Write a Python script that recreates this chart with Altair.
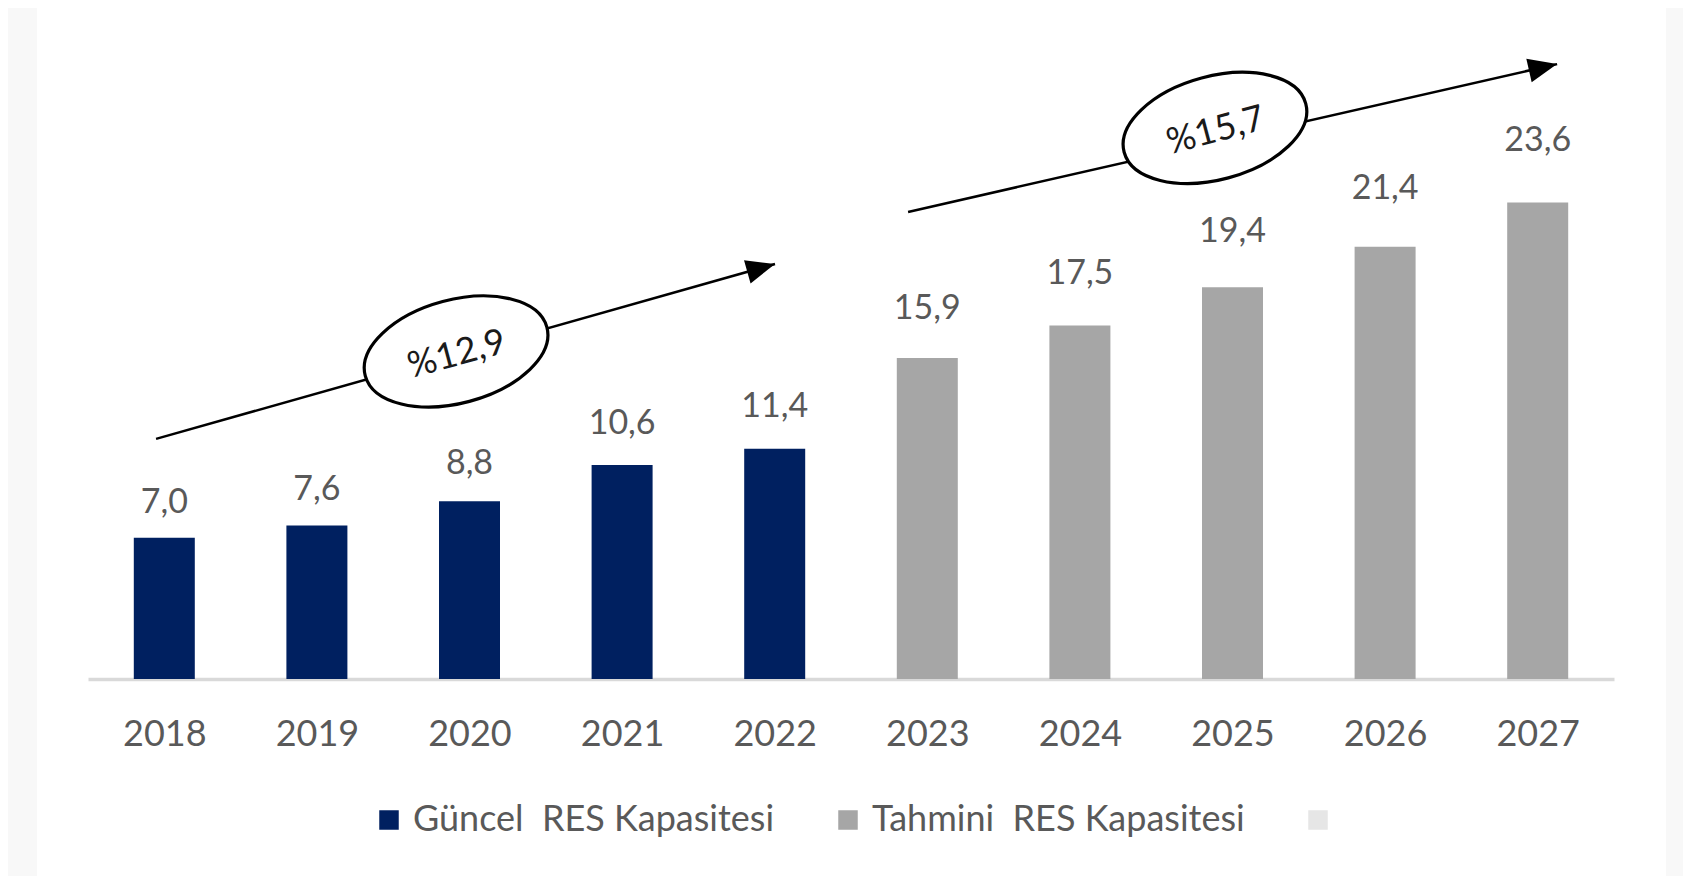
import altair as alt
import pandas as pd

# ---- data ----
years = ["2018", "2019", "2020", "2021", "2022", "2023", "2024", "2025", "2026", "2027"]
values = [7.0, 7.6, 8.8, 10.6, 11.4, 15.9, 17.5, 19.4, 21.4, 23.6]
series_names = ["Güncel\u00a0\u00a0RES Kapasitesi", "Tahmini\u00a0\u00a0RES Kapasitesi", "\u00a0"]
series_of_year = [0, 0, 0, 0, 0, 1, 1, 1, 1, 1]
series_colors = ["#002060", "#a6a6a6", "#e6e6e6"]

# growth annotations (x in category-index units, y in value units)
cagr_labels = ["%12,9", "%15,7"]
arrow_x0 = [0.446, 5.374]
arrow_y0 = [11.89, 23.13]
arrow_x1 = [4.502, 9.627]
arrow_y1 = [20.55, 30.45]
arrow_angle = [344.2, 347.15]
ellipse_x = [2.412, 7.385]
ellipse_y = [16.22, 27.29]

FONT = "Lato"
TXT = "#595959"

df = pd.DataFrame({
    "year": years,
    "pos": [i + 0.5 for i in range(len(years))],
    "value": values,
    "series": [series_names[i] for i in series_of_year],
    "label": [f"{v:.1f}".replace(".", ",") for v in values],
})
ann = pd.DataFrame({
    "lab": cagr_labels,
    "x0": arrow_x0, "y0": arrow_y0, "x1": arrow_x1, "y1": arrow_y1,
    "ang": arrow_angle, "ex": ellipse_x, "ey": ellipse_y,
})

W, H = 1526, 626
yscale = alt.Scale(domain=[0, 31], nice=False, zero=True)
xq = alt.Scale(domain=[0, len(years)], nice=False, zero=False, padding=0)
year_expr = "[" + ",".join(f"'{y}'" for y in years) + "][floor(datum.value)]"

# one shared x axis definition, used by every layer
xaxis = alt.Axis(values=[i + 0.5 for i in range(len(years))], labelExpr=year_expr,
                 labelFontSize=36, labelColor=TXT, labelFont=FONT,
                 labelAngle=0, ticks=False, grid=False,
                 domainColor="#d9d9d9", domainWidth=3.5,
                 labelPadding=55, labelBaseline="middle",
                 labelFlush=False, labelOverlap=False, title=None)


def X(field):
    return alt.X(field, type="quantitative", scale=xq, axis=xaxis, title=None)


def Y(field):
    return alt.Y(field, type="quantitative", scale=yscale, axis=None, title=None)


# light grey page strips at the left and right edges
strip_l = alt.Chart(df).mark_rect(color="#f8f8f8").encode(
    x=alt.value(-90), x2=alt.value(-51), y=alt.value(-60), y2=alt.value(830)
)
strip_r = alt.Chart(df).mark_rect(color="#f8f8f8").encode(
    x=alt.value(1578), x2=alt.value(1620), y=alt.value(-60), y2=alt.value(830)
)

bars = alt.Chart(df).mark_bar(size=61).encode(
    x=X("pos"),
    y=Y("value"),
    color=alt.Color("series:N",
                    scale=alt.Scale(domain=series_names, range=series_colors),
                    legend=alt.Legend(title=None, orient="none", legendX=283, legendY=749,
                                      direction="horizontal", symbolType="square",
                                      symbolSize=380, symbolStrokeWidth=0,
                                      labelFontSize=36, labelColor=TXT, labelFont=FONT,
                                      labelOffset=6, columnPadding=55, labelLimit=700)),
)

labels = alt.Chart(df).transform_calculate(
    lpos="datum.value * 1.08 + 0.67"
).mark_text(fontSize=34, font=FONT, color=TXT, baseline="alphabetic").encode(
    x=X("pos"),
    y=Y("lpos"),
    text="label:N",
)

aband = alt.Chart(ann)
rules = aband.mark_rule(color="black", strokeWidth=2.5).encode(
    x=X("x0"), x2="x1:Q",
    y=Y("y0"), y2="y1:Q",
)
heads = aband.mark_point(shape="M 0 0 L -2.4 -1 L -2.4 1 Z", filled=True,
                         color="black", size=576, opacity=1).encode(
    x=X("x1"),
    y=Y("y1"),
    angle=alt.Angle("ang:Q", scale=None),
)
ellipses = aband.mark_point(
    shape="M -1 0 A 1 0.55 0 1 1 1 0 A 1 0.55 0 1 1 -1 0 Z",
    filled=False, fill="white", fillOpacity=1, stroke="black", strokeWidth=3.2,
    size=35344, opacity=1,
).encode(
    x=X("ex"),
    y=Y("ey"),
    angle=alt.value(345),
)
etext = aband.mark_text(fontSize=36, font=FONT, color="#1a1a1a", angle=345,
                        baseline="middle", dy=3).encode(
    x=X("ex"),
    y=Y("ey"),
    text="lab:N",
)

chart = alt.layer(strip_l, strip_r, bars, labels, rules, heads, ellipses, etext).properties(
    width=W, height=H,
    autosize=alt.AutoSizeParams(type="none"),
    padding={"left": 80, "top": 45, "right": 69, "bottom": 197},
    background="white",
).configure_view(stroke=None)

chart.save("out.html", embed_options={"renderer": "svg", "actions": False})
